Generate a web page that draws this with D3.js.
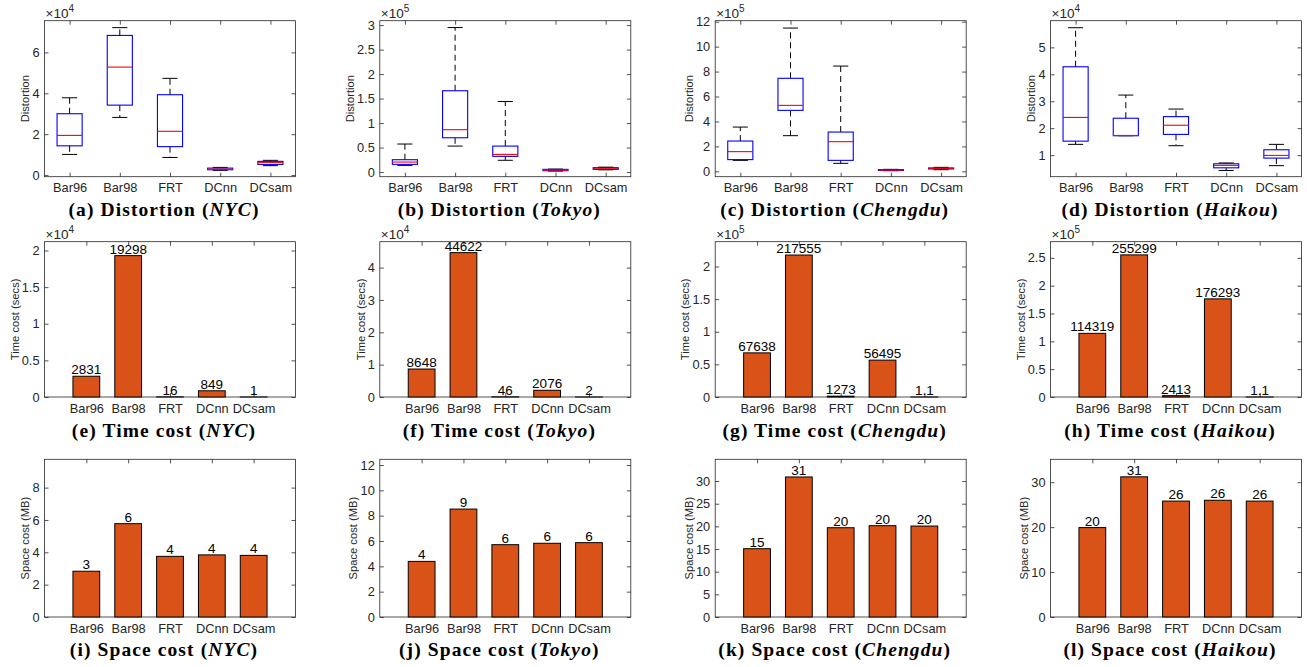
<!DOCTYPE html>
<html>
<head>
<meta charset="utf-8">
<script src="https://cdn.jsdelivr.net/npm/d3@7"></script>
<style>
body { margin: 0; background: #fff; }
</style>
</head>
<body>
<svg id="fig" width="1307" height="667"></svg>
<script>
const methods = ["Bar96", "Bar98", "FRT", "DCnn", "DCsam"];
const cities = ["NYC", "Tokyo", "Chengdu", "Haikou"];

// distortion boxplots, per method: [lower whisker, q1, median, q3, upper whisker] in units of 10^exp
const distNYC = [[1.01, 1.43, 1.94, 3.0, 3.78], [2.82, 3.42, 5.28, 6.83, 7.21], [0.86, 1.39, 2.14, 3.93, 4.73], [0.23, 0.26, 0.29, 0.34, 0.375], [0.46, 0.52, 0.62, 0.67, 0.72]];
const distTokyo = [[0.136, 0.157, 0.204, 0.252, 0.572], [0.53, 0.70, 0.865, 1.66, 2.95], [0.24, 0.32, 0.36, 0.53, 1.44], [0.02, 0.027, 0.04, 0.055, 0.06], [0.045, 0.055, 0.068, 0.089, 0.1]];
const distChengdu = [[0.88, 0.94, 1.58, 2.43, 3.55], [2.86, 4.89, 5.29, 7.46, 11.49], [0.64, 0.88, 2.38, 3.15, 8.44], [0.05, 0.07, 0.1, 0.14, 0.16], [0.13, 0.19, 0.24, 0.27, 0.32]];
const distHaikou = [[1.40, 1.52, 2.40, 4.28, 5.73], [1.72, 1.72, 1.73, 2.37, 3.23], [1.35, 1.77, 2.11, 2.43, 2.71], [0.43, 0.53, 0.62, 0.68, 0.71], [0.61, 0.89, 0.99, 1.20, 1.40]];
const distExp = [4, 5, 5, 4];
const distYlim = [[-0.08, 7.55], [-0.095, 3.09], [-0.43, 12.08], [0.2, 5.99]];
const distTicks = [[0, 2, 4, 6], [0, 0.5, 1, 1.5, 2, 2.5, 3], [0, 2, 4, 6, 8, 10, 12], [1, 2, 3, 4, 5]];

// time cost (secs)
const timeNYC = [2831, 19298, 16, 849, 1];
const timeTokyo = [8648, 44622, 46, 2076, 2];
const timeChengdu = [67638, 217555, 1273, 56495, 1.1];
const timeHaikou = [114319, 255299, 2413, 176293, 1.1];
const timeExp = [4, 4, 5, 5];
const timeYmax = [2.12, 4.8, 2.38, 2.79];
const timeTicks = [[0, 0.5, 1, 1.5, 2], [0, 1, 2, 3, 4], [0, 0.5, 1, 1.5, 2], [0, 0.5, 1, 1.5, 2, 2.5]];

// space cost (MB)
const spaceNYC = [2.83, 5.77, 3.75, 3.84, 3.81];
const spaceTokyo = [4.39, 8.52, 5.71, 5.82, 5.87];
const spaceChengdu = [15.07, 30.9, 19.7, 20.15, 20.07];
const spaceHaikou = [19.9, 31.2, 25.8, 25.98, 25.8];
const spaceYmax = [9.75, 12.45, 34.8, 35.1];
const spaceTicks = [[0, 2, 4, 6, 8], [0, 2, 4, 6, 8, 10, 12], [0, 5, 10, 15, 20, 25, 30], [0, 10, 20, 30]];

const distData = [distNYC, distTokyo, distChengdu, distHaikou];
const timeData = [timeNYC, timeTokyo, timeChengdu, timeHaikou];
const spaceData = [spaceNYC, spaceTokyo, spaceChengdu, spaceHaikou];

// layout
const colLeft = [44.5, 379.8, 715.2, 1050.5];
const plotW = 251;
const rowTop = [20.7, 241.7, 459.3];
const rowBottom = [176.7, 397, 617];
const titleBase = [216, 437, 656];
const sans = "'Liberation Sans', Arial, sans-serif";
const serif = "'Liberation Serif', 'Times New Roman', serif";
const axisColor = "#262626";

const svg = d3.select("#fig");

function makeAxes(col, row, xlim, ylim, yticks, ylabel, exp) {
  const x0 = colLeft[col], x1 = x0 + plotW, y0 = rowTop[row], y1 = rowBottom[row];
  const g = svg.append("g");
  const x = d3.scaleLinear().domain(xlim).range([x0, x1]);
  const y = d3.scaleLinear().domain(ylim).range([y1, y0]);

  const left = g.append("g").attr("transform", "translate(" + x0 + ",0)")
    .call(d3.axisLeft(y).tickValues(yticks).tickSize(-4).tickPadding(5).tickFormat(d => String(d)));
  g.append("g").attr("transform", "translate(" + x1 + ",0)")
    .call(d3.axisRight(y).tickValues(yticks).tickSize(-4).tickFormat(""));
  g.append("g").attr("transform", "translate(0," + y1 + ")")
    .call(d3.axisBottom(x).tickValues([1, 2, 3, 4, 5]).tickSize(-4).tickPadding(6.5).tickFormat((d, i) => methods[i]));
  g.append("g").attr("transform", "translate(0," + y0 + ")")
    .call(d3.axisTop(x).tickValues([1, 2, 3, 4, 5]).tickSize(-4).tickFormat(""));

  g.selectAll(".domain").remove();
  g.selectAll(".tick line").attr("stroke", axisColor).attr("stroke-width", 0.8);
  g.selectAll(".tick text").attr("fill", axisColor).style("font-family", sans).style("font-size", "12.8px");

  g.append("rect").attr("x", x0).attr("y", y0).attr("width", x1 - x0).attr("height", y1 - y0)
    .attr("fill", "none").attr("stroke", axisColor).attr("stroke-width", 0.8);

  let maxW = 0;
  left.selectAll("text").each(function () { maxW = Math.max(maxW, this.getBBox().width); });
  const lx = x0 - 5 - maxW - 7;
  g.append("text").attr("transform", "translate(" + lx + "," + ((y0 + y1) / 2) + ") rotate(-90)")
    .attr("text-anchor", "middle").attr("dy", "0.35em")
    .attr("fill", axisColor).style("font-family", sans).style("font-size", "11.2px")
    .text(ylabel);

  if (exp) {
    const t = g.append("text").attr("x", x0 + 1).attr("y", y0 - 2.5)
      .attr("fill", axisColor).style("font-family", sans).style("font-size", "13.5px");
    t.append("tspan").text("\u00d710");
    t.append("tspan").attr("dy", -6).style("font-size", "10px").text(exp);
  }
  return { g, x, y };
}

function title(col, row, letter, label, city) {
  const cx = colLeft[col] + plotW / 2 - 6;
  const t = svg.append("text").attr("x", cx).attr("y", titleBase[row])
    .attr("text-anchor", "middle").attr("fill", "#000")
    .style("font-family", serif).style("font-weight", "bold").style("font-size", "19.5px")
    .style("letter-spacing", "1.1px");
  t.append("tspan").text("(" + letter + ") " + label + " (");
  t.append("tspan").style("font-style", "italic").text(city);
  t.append("tspan").text(")");
}

const letters = "abcdefghijkl";

cities.forEach((city, c) => {
  // row 1: distortion boxplot
  const a = makeAxes(c, 0, [0.5, 5.5], distYlim[c], distTicks[c], "Distortion", distExp[c]);
  const bw = 0.25, cw = 0.15;
  distData[c].forEach((s, i) => {
    const xc = i + 1;
    const [lo, q1, md, q3, hi] = s;
    a.g.append("line").attr("x1", a.x(xc)).attr("x2", a.x(xc)).attr("y1", a.y(q3)).attr("y2", a.y(hi))
      .attr("stroke", "#000").attr("stroke-width", 1).attr("stroke-dasharray", "6,4");
    a.g.append("line").attr("x1", a.x(xc)).attr("x2", a.x(xc)).attr("y1", a.y(q1)).attr("y2", a.y(lo))
      .attr("stroke", "#000").attr("stroke-width", 1).attr("stroke-dasharray", "6,4");
    [lo, hi].forEach(v => {
      a.g.append("line").attr("x1", a.x(xc - cw)).attr("x2", a.x(xc + cw)).attr("y1", a.y(v)).attr("y2", a.y(v))
        .attr("stroke", "#000").attr("stroke-width", 1);
    });
    a.g.append("rect").attr("x", a.x(xc - bw)).attr("width", a.x(xc + bw) - a.x(xc - bw))
      .attr("y", a.y(q3)).attr("height", Math.max(a.y(q1) - a.y(q3), 0.5))
      .attr("fill", "none").attr("stroke", "#0000ff").attr("stroke-width", 1.1);
    a.g.append("line").attr("x1", a.x(xc - bw)).attr("x2", a.x(xc + bw)).attr("y1", a.y(md)).attr("y2", a.y(md))
      .attr("stroke", "#ff0000").attr("stroke-width", 1.1);
  });
  title(c, 0, letters[c], "Distortion", city);

  // row 2: time cost
  const scale = Math.pow(10, timeExp[c]);
  const b = makeAxes(c, 1, [0, 6], [0, timeYmax[c]], timeTicks[c], "Time cost (secs)", timeExp[c]);
  const hw = 0.32;
  timeData[c].forEach((v, i) => {
    const xc = i + 1;
    b.g.append("rect").attr("x", b.x(xc - hw)).attr("width", b.x(xc + hw) - b.x(xc - hw))
      .attr("y", b.y(v / scale)).attr("height", b.y(0) - b.y(v / scale))
      .attr("fill", "#d95319").attr("stroke", "#000").attr("stroke-width", 1);
    b.g.append("text").attr("x", b.x(xc)).attr("y", b.y(v / scale) - 2)
      .attr("text-anchor", "middle").attr("fill", "#000")
      .style("font-family", sans).style("font-size", "13.5px").text(String(v));
  });
  title(c, 1, letters[c + 4], "Time cost", city);

  // row 3: space cost
  const s3 = makeAxes(c, 2, [0, 6], [0, spaceYmax[c]], spaceTicks[c], "Space cost (MB)", null);
  spaceData[c].forEach((v, i) => {
    const xc = i + 1;
    s3.g.append("rect").attr("x", s3.x(xc - hw)).attr("width", s3.x(xc + hw) - s3.x(xc - hw))
      .attr("y", s3.y(v)).attr("height", s3.y(0) - s3.y(v))
      .attr("fill", "#d95319").attr("stroke", "#000").attr("stroke-width", 1);
    s3.g.append("text").attr("x", s3.x(xc)).attr("y", s3.y(v) - 2)
      .attr("text-anchor", "middle").attr("fill", "#000")
      .style("font-family", sans).style("font-size", "13.5px").text(String(Math.round(v)));
  });
  title(c, 2, letters[c + 8], "Space cost", city);
});
</script>
</body>
</html>
